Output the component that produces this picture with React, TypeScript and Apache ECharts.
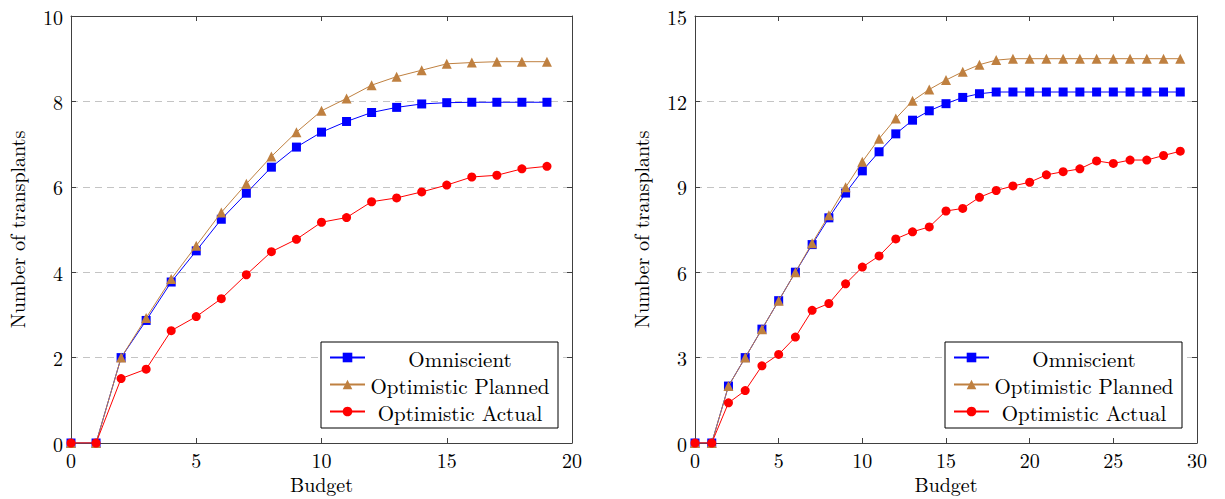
import React, { useEffect, useRef } from "react";
import * as echarts from "echarts";

const FONT = "Latin Modern Roman";

const budgetLeft = [0, 1, 2, 3, 4, 5, 6, 7, 8, 9, 10, 11, 12, 13, 14, 15, 16, 17, 18, 19];
const omniscientLeft = [0, 0, 2.0, 2.87, 3.77, 4.5, 5.24, 5.85, 6.46, 6.93, 7.28, 7.53, 7.74, 7.86, 7.94, 7.97, 7.98, 7.98, 7.98, 7.98];
const plannedLeft = [0, 0, 2.0, 2.93, 3.84, 4.62, 5.4, 6.07, 6.71, 7.28, 7.78, 8.07, 8.38, 8.58, 8.73, 8.88, 8.91, 8.93, 8.93, 8.93];
const actualLeft = [0, 0, 1.51, 1.73, 2.63, 2.96, 3.38, 3.94, 4.48, 4.77, 5.17, 5.28, 5.65, 5.74, 5.88, 6.04, 6.23, 6.27, 6.42, 6.48];

const budgetRight = [0, 1, 2, 3, 4, 5, 6, 7, 8, 9, 10, 11, 12, 13, 14, 15, 16, 17, 18, 19, 20, 21, 22, 23, 24, 25, 26, 27, 28, 29];
const omniscientRight = [0, 0, 2.0, 3.0, 4.0, 5.0, 6.0, 6.97, 7.91, 8.78, 9.56, 10.23, 10.86, 11.34, 11.67, 11.92, 12.14, 12.27, 12.33, 12.33, 12.33, 12.33, 12.33, 12.33, 12.33, 12.33, 12.33, 12.33, 12.33, 12.33];
const plannedRight = [0, 0, 2.0, 3.0, 4.0, 5.0, 6.0, 7.02, 8.0, 8.98, 9.88, 10.69, 11.4, 12.02, 12.42, 12.75, 13.04, 13.29, 13.45, 13.5, 13.5, 13.5, 13.5, 13.5, 13.5, 13.5, 13.5, 13.5, 13.5, 13.5];
const actualRight = [0, 0, 1.41, 1.84, 2.71, 3.11, 3.72, 4.66, 4.9, 5.59, 6.18, 6.57, 7.17, 7.42, 7.59, 8.15, 8.24, 8.63, 8.87, 9.03, 9.16, 9.42, 9.53, 9.63, 9.91, 9.82, 9.94, 9.94, 10.1, 10.25];

const seriesNames = ["Omniscient", "Optimistic Planned", "Optimistic Actual"];
const seriesColors = ["#0000ff", "#bf8040", "#ff0000"];
const seriesSymbols = ["rect", "triangle", "circle"];
const seriesSymbolSizes = [9, 10, 9];

const xTitle = "Budget";
const yTitle = "Number of transplants";

const axisColor = "#404040";

function makeAxes(gridIndex: number, max: number, interval: number, isX: boolean, name: string) {
  const main: any = {
    type: "value",
    gridIndex,
    min: 0,
    max,
    interval,
    position: isX ? "bottom" : "left",
    name,
    nameLocation: "middle",
    nameGap: isX ? 30 : 47,
    nameTextStyle: { fontFamily: FONT, fontSize: 20, lineHeight: 16, color: "#000" },
    axisLine: { show: true, onZero: false, lineStyle: { color: axisColor, width: 1 } },
    axisTick: { show: true, inside: true, length: 5, lineStyle: { color: axisColor } },
    axisLabel: { fontFamily: FONT, fontSize: 20, lineHeight: 16, color: "#000", margin: 8 },
    splitLine: isX
      ? { show: false }
      : { show: true, lineStyle: { color: "#c4c4c4", type: [7, 5], width: 1 } },
  };
  const second: any = {
    type: "value",
    gridIndex,
    min: 0,
    max,
    interval,
    position: isX ? "top" : "right",
    axisLine: { show: true, onZero: false, lineStyle: { color: axisColor, width: 1 } },
    axisTick: { show: true, inside: true, length: 5, lineStyle: { color: axisColor } },
    axisLabel: { show: false },
    splitLine: { show: false },
  };
  return [main, second];
}

function buildSeries(xs: number[], ys: number[][], xAxisIndex: number, yAxisIndex: number) {
  return ys.map((vals, i) => ({
    type: "line",
    name: seriesNames[i],
    xAxisIndex,
    yAxisIndex,
    data: xs.map((x, j) => [x, vals[j]]),
    symbol: seriesSymbols[i],
    symbolSize: seriesSymbolSizes[i],
    showAllSymbol: true,
    color: seriesColors[i],
    lineStyle: { color: seriesColors[i], width: 1 },
    itemStyle: { color: seriesColors[i] },
    z: 2 + i,
  }));
}

function makeLegend(left: number) {
  return {
    left,
    top: 342,
    orient: "vertical",
    data: seriesNames,
    backgroundColor: "#fff",
    borderColor: "#000",
    borderWidth: 1,
    borderRadius: 0,
    padding: [5, 8, 6, 8],
    itemGap: 6,
    itemWidth: 35,
    itemHeight: 12,
    selectedMode: false,
    formatter: (n: string) => `{t|${n}}`,
    textStyle: {
      fontFamily: FONT,
      fontSize: 21,
      color: "#000",
      rich: {
        t: { width: 180, height: 21, align: "center", fontFamily: FONT, fontSize: 21, lineHeight: 21, color: "#000" },
      },
    },
  };
}

export default function App() {
  const ref = useRef<HTMLDivElement>(null);
  useEffect(() => {
    if (!ref.current) return;
    const chart = echarts.init(ref.current, null, { renderer: "svg" });
    const [xL, xLTop] = makeAxes(0, 20, 5, true, xTitle);
    const [yL, yLRight] = makeAxes(0, 10, 2, false, yTitle);
    const [xR, xRTop] = makeAxes(1, 30, 5, true, xTitle);
    const [yR, yRRight] = makeAxes(1, 15, 3, false, yTitle);
    chart.setOption({
      animation: false,
      backgroundColor: "#fff",
      textStyle: { fontFamily: FONT },
      grid: [
        { left: 71, top: 16, width: 501, height: 427 },
        { left: 695, top: 16, width: 502, height: 427 },
      ],
      xAxis: [xL, xLTop, xR, xRTop],
      yAxis: [yL, yLRight, yR, yRRight],
      legend: [makeLegend(321), makeLegend(945)],
      series: [
        ...buildSeries(budgetLeft, [omniscientLeft, plannedLeft, actualLeft], 0, 0),
        ...buildSeries(budgetRight, [omniscientRight, plannedRight, actualRight], 2, 2),
      ],
    });
    return () => chart.dispose();
  }, []);
  return (
    <div
      ref={ref}
      style={{ position: "fixed", left: 0, top: 0, width: 1225, height: 499, background: "#fff" }}
    />
  );
}
